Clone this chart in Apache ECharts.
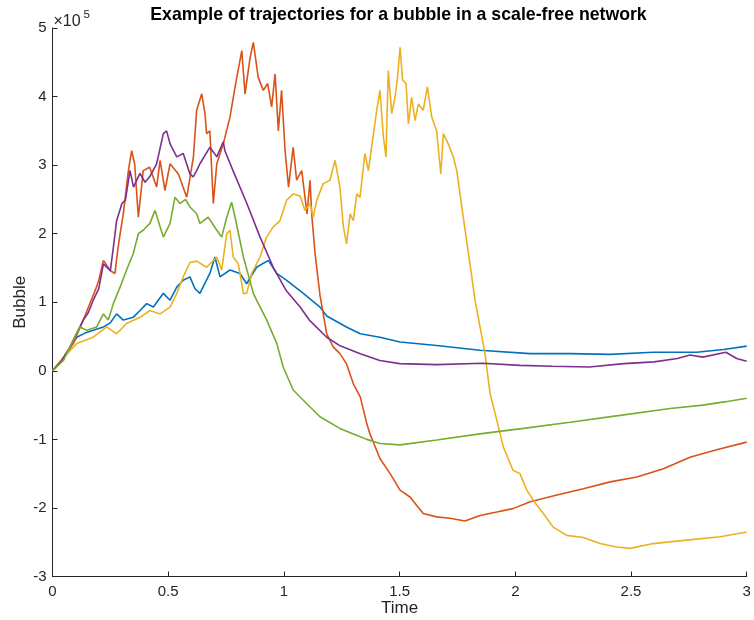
<!DOCTYPE html>
<html>
<head>
<meta charset="utf-8">
<script src="https://cdn.jsdelivr.net/npm/echarts@6/dist/echarts.min.js"></script>
<style>
html,body{margin:0;padding:0;background:#fff;}
#chart{width:754px;height:620px;}
</style>
</head>
<body>
<div id="chart"></div>
<script>
// Values in units of 1e5
const xTicks = [0, 0.5, 1, 1.5, 2, 2.5, 3];
const yTicks = [-3, -2, -1, 0, 1, 2, 3, 4, 5];

const blueSeries = [[0,0],[0.05,0.2],[0.105,0.49],[0.14,0.55],[0.176,0.59],[0.22,0.64],[0.25,0.7],[0.277,0.83],[0.306,0.74],[0.349,0.78],[0.378,0.88],[0.407,0.98],[0.436,0.93],[0.479,1.13],[0.508,1.03],[0.537,1.22],[0.565,1.32],[0.594,1.37],[0.615,1.2],[0.637,1.13],[0.68,1.42],[0.702,1.66],[0.724,1.37],[0.767,1.47],[0.81,1.42],[0.839,1.27],[0.882,1.51],[0.933,1.61],[0.969,1.42],[1.012,1.32],[1.084,1.13],[1.156,0.93],[1.185,0.8],[1.27,0.64],[1.33,0.54],[1.415,0.49],[1.502,0.42],[1.66,0.37],[1.847,0.3],[2.064,0.25],[2.236,0.25],[2.41,0.24],[2.596,0.27],[2.784,0.27],[2.9,0.31],[3.0,0.36]];

const orangeSeries = [[0,0],[0.045,0.18],[0.09,0.4],[0.14,0.8],[0.19,1.22],[0.2,1.32],[0.22,1.61],[0.25,1.46],[0.27,1.42],[0.28,1.71],[0.29,1.95],[0.306,2.29],[0.328,2.92],[0.342,3.21],[0.355,3.02],[0.371,2.24],[0.392,2.92],[0.42,2.97],[0.45,2.68],[0.465,3.07],[0.486,2.63],[0.508,3.02],[0.544,2.87],[0.58,2.53],[0.609,3.12],[0.623,3.8],[0.645,4.04],[0.659,3.75],[0.666,3.46],[0.68,3.5],[0.695,2.44],[0.71,3.02],[0.738,3.31],[0.767,3.7],[0.789,4.14],[0.818,4.67],[0.832,4.04],[0.854,4.57],[0.868,4.79],[0.889,4.28],[0.911,4.09],[0.93,4.19],[0.947,3.85],[0.962,4.33],[0.976,3.5],[0.99,4.09],[1.005,3.21],[1.02,2.68],[1.04,3.26],[1.055,2.78],[1.077,2.92],[1.1,2.29],[1.113,2.78],[1.12,2.29],[1.135,1.7],[1.156,1.1],[1.185,0.54],[1.213,0.35],[1.242,0.25],[1.27,0.105],[1.3,-0.19],[1.33,-0.38],[1.358,-0.77],[1.372,-0.92],[1.415,-1.28],[1.459,-1.5],[1.502,-1.74],[1.545,-1.84],[1.602,-2.08],[1.66,-2.13],[1.718,-2.15],[1.783,-2.19],[1.847,-2.11],[1.92,-2.06],[1.99,-2.01],[2.064,-1.91],[2.18,-1.81],[2.294,-1.72],[2.41,-1.62],[2.525,-1.55],[2.64,-1.43],[2.755,-1.26],[2.87,-1.15],[3.0,-1.04]];

const yellowSeries = [[0,0],[0.05,0.2],[0.105,0.4],[0.176,0.49],[0.234,0.64],[0.277,0.54],[0.32,0.69],[0.378,0.78],[0.421,0.88],[0.465,0.83],[0.508,0.93],[0.537,1.13],[0.565,1.37],[0.594,1.58],[0.623,1.6],[0.666,1.51],[0.71,1.66],[0.731,1.47],[0.753,2.0],[0.767,2.05],[0.781,1.66],[0.803,1.56],[0.825,1.13],[0.839,1.13],[0.861,1.42],[0.897,1.66],[0.925,1.95],[0.954,2.1],[0.983,2.19],[1.012,2.49],[1.04,2.58],[1.07,2.55],[1.091,2.34],[1.113,2.44],[1.127,2.24],[1.142,2.49],[1.17,2.73],[1.199,2.78],[1.221,3.07],[1.242,2.68],[1.257,2.1],[1.271,1.85],[1.286,2.29],[1.3,2.19],[1.315,2.58],[1.329,2.53],[1.35,3.17],[1.365,2.92],[1.379,3.26],[1.401,3.8],[1.415,4.09],[1.43,3.41],[1.441,3.12],[1.451,4.38],[1.466,3.75],[1.48,3.99],[1.49,4.24],[1.502,4.72],[1.513,4.24],[1.528,4.19],[1.538,3.6],[1.552,3.99],[1.567,3.65],[1.581,3.89],[1.602,3.8],[1.62,4.14],[1.639,3.7],[1.66,3.5],[1.678,2.87],[1.689,3.46],[1.71,3.31],[1.732,3.12],[1.747,2.92],[1.775,2.24],[1.804,1.56],[1.826,1.03],[1.869,0.25],[1.891,-0.33],[1.92,-0.72],[1.948,-1.11],[1.99,-1.45],[2.02,-1.5],[2.05,-1.74],[2.078,-1.89],[2.121,-2.08],[2.164,-2.28],[2.222,-2.4],[2.294,-2.43],[2.366,-2.52],[2.438,-2.57],[2.496,-2.59],[2.596,-2.52],[2.74,-2.47],[2.885,-2.42],[3.0,-2.35]];

const purpleSeries = [[0,0],[0.04,0.15],[0.076,0.35],[0.105,0.55],[0.133,0.74],[0.155,0.85],[0.176,1.03],[0.2,1.2],[0.22,1.56],[0.25,1.46],[0.263,1.8],[0.277,2.19],[0.3,2.44],[0.315,2.49],[0.335,2.92],[0.35,2.68],[0.378,2.88],[0.4,2.75],[0.42,2.83],[0.45,3.02],[0.479,3.46],[0.493,3.5],[0.508,3.31],[0.537,3.12],[0.565,3.17],[0.594,2.87],[0.608,2.83],[0.623,2.92],[0.637,3.02],[0.68,3.26],[0.71,3.12],[0.738,3.34],[0.745,3.21],[0.78,2.92],[0.84,2.44],[0.897,1.95],[0.954,1.51],[1.01,1.17],[1.07,0.93],[1.11,0.74],[1.185,0.49],[1.24,0.37],[1.33,0.25],[1.415,0.15],[1.5,0.105],[1.66,0.09],[1.86,0.11],[2.02,0.08],[2.16,0.066],[2.32,0.055],[2.47,0.105],[2.6,0.13],[2.7,0.18],[2.755,0.23],[2.81,0.2],[2.91,0.27],[2.957,0.18],[3.0,0.14]];

const greenSeries = [[0,0],[0.047,0.15],[0.09,0.45],[0.119,0.64],[0.148,0.59],[0.191,0.64],[0.22,0.83],[0.241,0.74],[0.263,0.98],[0.292,1.22],[0.32,1.47],[0.349,1.71],[0.371,2.0],[0.392,2.05],[0.421,2.15],[0.443,2.34],[0.465,2.1],[0.479,1.95],[0.508,2.15],[0.529,2.53],[0.551,2.44],[0.575,2.5],[0.594,2.39],[0.623,2.29],[0.637,2.15],[0.673,2.24],[0.71,2.05],[0.731,1.95],[0.753,2.24],[0.774,2.46],[0.789,2.24],[0.825,1.66],[0.868,1.13],[0.882,1.03],[0.926,0.74],[0.969,0.4],[0.997,0.055],[1.04,-0.28],[1.099,-0.48],[1.156,-0.67],[1.242,-0.84],[1.3,-0.92],[1.358,-1.0],[1.415,-1.06],[1.502,-1.08],[1.66,-1.01],[1.847,-0.92],[2.035,-0.84],[2.236,-0.75],[2.453,-0.65],[2.669,-0.55],[2.81,-0.5],[2.91,-0.45],[3.0,-0.4]];

const seriesList = [
  {name: 'Trajectory 1', data: blueSeries, color: '#0072BD'},
  {name: 'Trajectory 2', data: orangeSeries, color: '#D95319'},
  {name: 'Trajectory 3', data: yellowSeries, color: '#EDB120'},
  {name: 'Trajectory 4', data: purpleSeries, color: '#7E2F8E'},
  {name: 'Trajectory 5', data: greenSeries, color: '#77AC30'}
];

const FONT = '"Liberation Sans", Arial, Helvetica, sans-serif';
const AX = '#262626';

const chart = echarts.init(document.getElementById('chart'), null, {renderer: 'canvas'});
chart.setOption({
  animation: false,
  backgroundColor: '#ffffff',
  title: {
    text: 'Example of trajectories for a bubble in a scale-free network',
    left: 393.5, top: 1, textAlign: 'center',
    textStyle: {fontFamily: FONT, fontSize: 17.7, fontWeight: 'bold', color: '#000'}
  },
  graphic: [
    {type: 'text', left: 53.5, top: 13.5, silent: true,
     style: {text: '×10', font: '16px ' + FONT, fill: AX}},
    {type: 'text', left: 83.5, top: 9, silent: true,
     style: {text: '5', font: '11.5px ' + FONT, fill: AX}}
  ],
  grid: {left: 52.5, right: 7.3, top: 28, bottom: 43.5, containLabel: false, outerBoundsMode: 'none'},
  xAxis: {
    type: 'value', min: 0, max: 3, interval: 0.5,
    name: 'Time', nameLocation: 'middle', nameGap: 23, nameMoveOverlap: false,
    nameTextStyle: {fontFamily: FONT, fontSize: 17, color: AX},
    axisLine: {show: true, onZero: false, lineStyle: {color: AX, width: 1}},
    axisTick: {show: true, inside: true, length: 5, lineStyle: {color: AX}},
    axisLabel: {fontFamily: FONT, fontSize: 15, color: AX, margin: 8,
      formatter: v => String(xTicks.find(t => Math.abs(t - v) < 1e-9) ?? v)},
    splitLine: {show: false}
  },
  yAxis: {
    type: 'value', min: -3, max: 5, interval: 1,
    name: 'Bubble', nameLocation: 'middle', nameGap: 24, nameRotate: 90, nameMoveOverlap: false,
    nameTextStyle: {fontFamily: FONT, fontSize: 17, color: AX},
    axisLine: {show: true, onZero: false, lineStyle: {color: AX, width: 1}},
    axisTick: {show: true, inside: true, length: 5, lineStyle: {color: AX}},
    axisLabel: {fontFamily: FONT, fontSize: 15, color: AX, margin: 6,
      formatter: v => String(yTicks.find(t => Math.abs(t - v) < 1e-9) ?? v)},
    splitLine: {show: false}
  },
  series: seriesList.map(s => ({
    name: s.name, type: 'line', data: s.data, showSymbol: false, symbol: 'none',
    lineStyle: {color: s.color, width: 1.6}, itemStyle: {color: s.color},
    emphasis: {disabled: true}
  }))
});
</script>
</body>
</html>
